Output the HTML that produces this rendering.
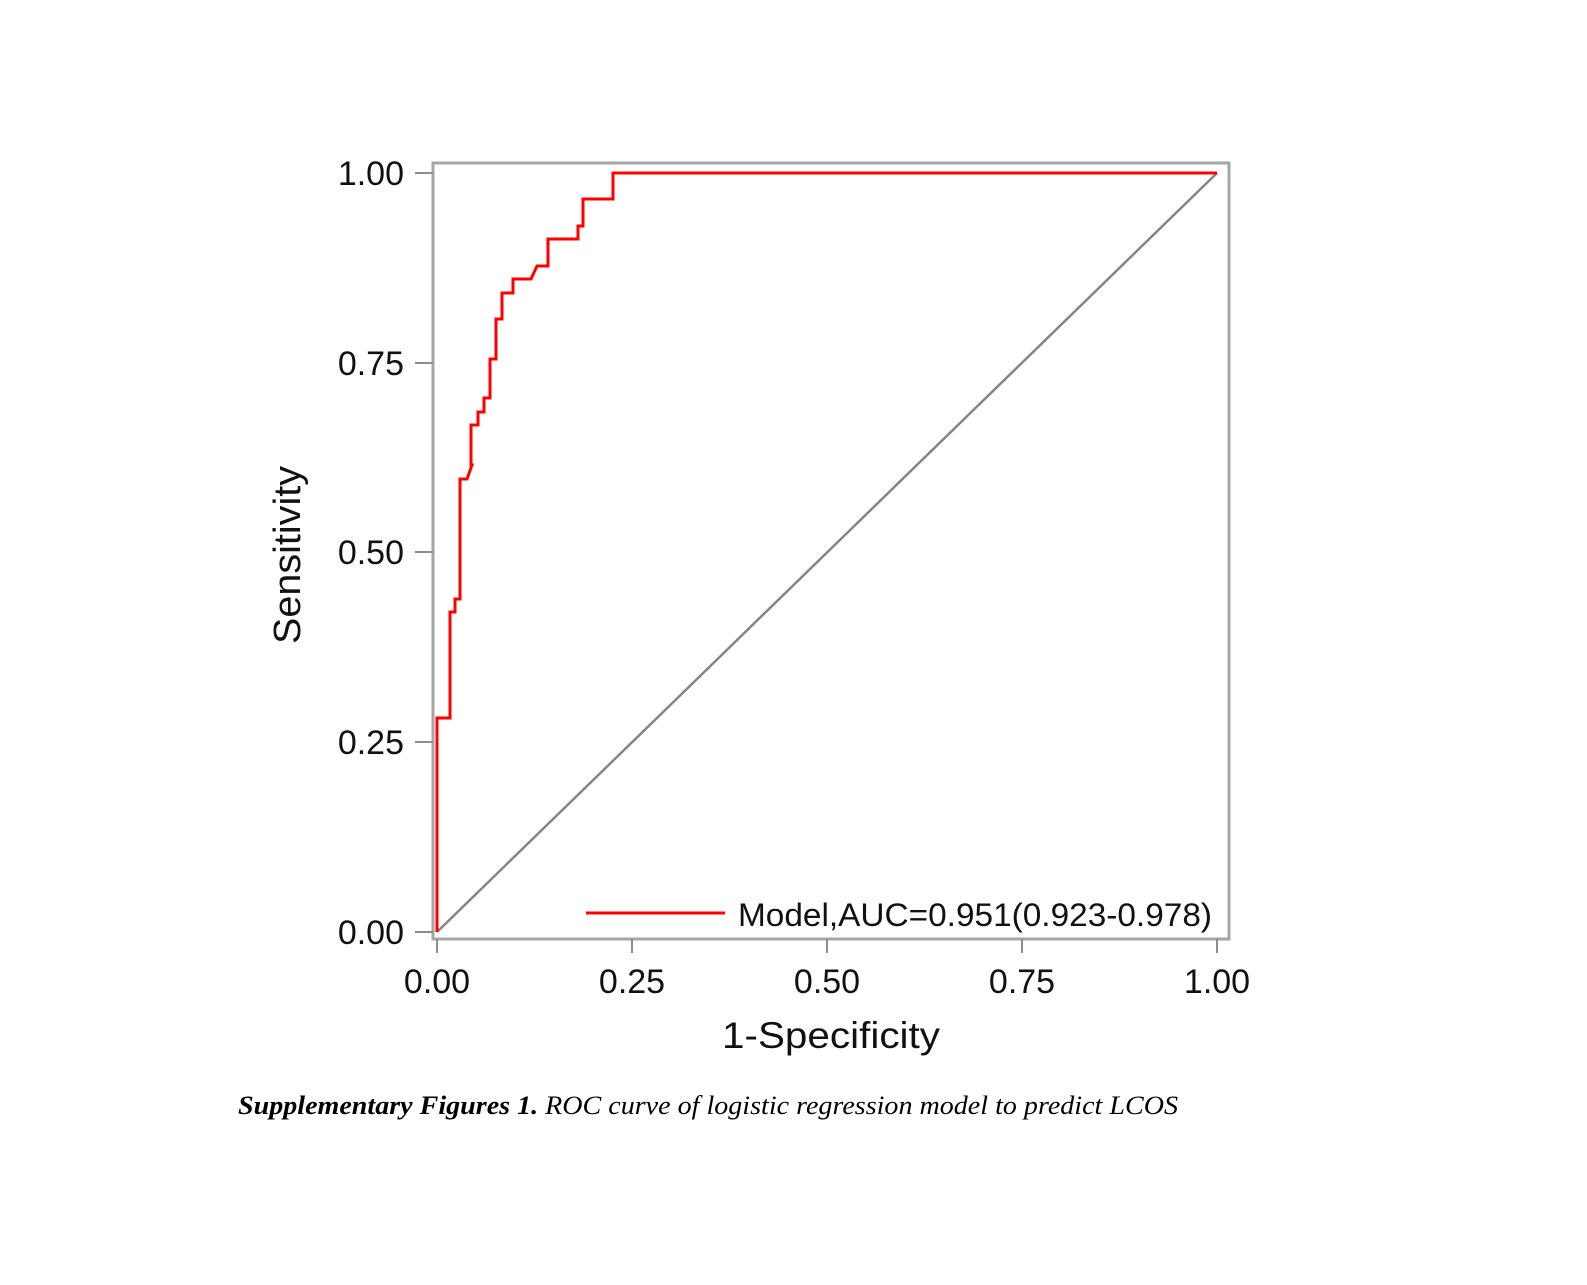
<!DOCTYPE html>
<html><head><meta charset="utf-8"><style>html,body{margin:0;padding:0;background:#fff}</style></head>
<body>
<svg width="1587" height="1280" viewBox="0 0 1587 1280" xmlns="http://www.w3.org/2000/svg">
<rect width="1587" height="1280" fill="#fff"/>
<rect x="433" y="163" width="796" height="776" fill="none" stroke="#a6a6a6" stroke-width="3"/>
<g stroke="#8c8c8c" stroke-width="2">
<line x1="415" y1="173" x2="433" y2="173"/><line x1="415" y1="363" x2="433" y2="363"/>
<line x1="415" y1="552" x2="433" y2="552"/><line x1="415" y1="742" x2="433" y2="742"/>
<line x1="415" y1="932" x2="433" y2="932"/>
<line x1="437" y1="939" x2="437" y2="953"/><line x1="632" y1="939" x2="632" y2="953"/>
<line x1="827" y1="939" x2="827" y2="953"/><line x1="1022" y1="939" x2="1022" y2="953"/>
<line x1="1217" y1="939" x2="1217" y2="953"/>
</g>
<line x1="437" y1="932" x2="1217" y2="173" stroke="#858585" stroke-width="2.5"/>
<polyline fill="none" stroke="#ff0000" stroke-width="3" points="437,932 437,718 450,718 450,612 455,612 455,599 460,599 460,479 467,479 472,465 471,465 471,425 478,425 478,412 484,412 484,398 490,398 490,359 496,359 496,319 502,319 502,293 513,293 513,279 531,279 537,266 548,266 548,239 578,239 578,226 583,226 583,199 613,199 613,173 1217,173"/>
<g font-family="Liberation Sans, sans-serif" font-size="34" fill="#111">
<text x="404" y="185" text-anchor="end">1.00</text>
<text x="404" y="375" text-anchor="end">0.75</text>
<text x="404" y="564" text-anchor="end">0.50</text>
<text x="404" y="754" text-anchor="end">0.25</text>
<text x="404" y="944" text-anchor="end">0.00</text>
<text x="437" y="993" text-anchor="middle">0.00</text>
<text x="632" y="993" text-anchor="middle">0.25</text>
<text x="827" y="993" text-anchor="middle">0.50</text>
<text x="1022" y="993" text-anchor="middle">0.75</text>
<text x="1217" y="993" text-anchor="middle">1.00</text>
<text x="738" y="926" font-size="32" textLength="474" lengthAdjust="spacingAndGlyphs">Model,AUC=0.951(0.923-0.978)</text>
<text x="722" y="1048" font-size="37" textLength="218" lengthAdjust="spacingAndGlyphs">1-Specificity</text>
<text transform="translate(300,644) rotate(-90)" font-size="38" textLength="178" lengthAdjust="spacingAndGlyphs">Sensitivity</text>
</g>
<line x1="586" y1="913" x2="725" y2="913" stroke="#ff0000" stroke-width="3"/>
<text x="238" y="1114" font-family="Liberation Serif, serif" font-size="26" font-style="italic" fill="#000" textLength="940" lengthAdjust="spacingAndGlyphs"><tspan font-weight="bold">Supplementary Figures 1.</tspan> ROC curve of logistic regression model to predict LCOS</text>
</svg>
</body></html>
